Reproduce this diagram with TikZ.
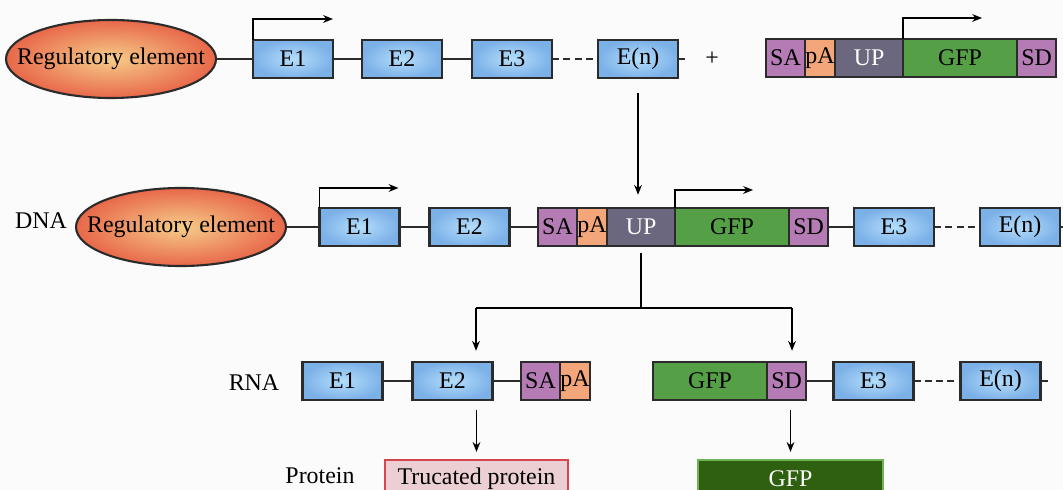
\documentclass[tikz,border=0pt]{standalone}
\usepackage{fontspec}
\setmainfont{Liberation Serif}
\usetikzlibrary{positioning,shapes.geometric,arrows.meta}
\definecolor{bgcol}{HTML}{FBFBFB}
\definecolor{boxline}{HTML}{2B2B2B}
\definecolor{exonin}{HTML}{B4DDFA}
\definecolor{exonout}{HTML}{7CB1E8}
\definecolor{regin}{HTML}{F6CC89}
\definecolor{regout}{HTML}{E8684A}
\definecolor{sacol}{HTML}{B57BB4}
\definecolor{pacol}{HTML}{F2A679}
\definecolor{upcol}{HTML}{6A677F}
\definecolor{gfpcol}{HTML}{55A047}
\definecolor{trfill}{HTML}{EBCFD3}
\definecolor{trline}{HTML}{D64550}
\definecolor{gpfill}{HTML}{2E600F}
\definecolor{gpline}{HTML}{6DB356}
\tikzset{
  exon/.style={draw=boxline, line width=1.5pt, inner color=exonin, outer color=exonout,
    minimum width=2cm, minimum height=0.95cm, inner sep=0pt, outer sep=0pt},
  reg/.style={ellipse, draw=boxline, line width=1.5pt, inner color=regin, outer color=regout,
    minimum width=5.1cm, minimum height=1.95cm, inner xsep=-14pt, inner ysep=0pt},
  partbox/.style={draw=boxline, line width=1.5pt, minimum height=0.95cm, inner sep=0pt, outer sep=0pt},
  sa/.style={partbox, fill=sacol, minimum width=0.975cm},
  pa/.style={partbox, fill=pacol, minimum width=0.75cm},
  up/.style={partbox, fill=upcol, text=white, minimum width=1.7cm},
  gfp/.style={partbox, fill=gfpcol, minimum width=2.85cm},
  sd/.style={partbox, fill=sacol, minimum width=0.975cm},
  link/.style={draw=boxline, line width=1.5pt},
  gapline/.style={link, dash pattern=on 5pt off 3pt},
  prom/.style={->, line width=1pt},
  arr/.style={->, line width=1pt},
  prot/.style={line width=1.3pt, minimum height=0.95cm, inner sep=0pt},
}
\begin{document}
\begin{tikzpicture}[x=0.025cm, y=-0.025cm, >={Stealth[length=7pt,width=5.5pt]}, font=\fontsize{17}{19}\selectfont]
\useasboundingbox (0,0) rectangle (1063,490);
\fill[bgcol] (0,0) rectangle (1063,490);
\clip (0,0) rectangle (1063,490);

% genomic locus + trap cassette
\node[reg] (reg1) at (111,59) {Regulatory element};
\node[exon] (ea1) at (293,59) {E1};
\node[exon] (eb1) at (402,59) {E2};
\node[exon] (ec1) at (512,59) {E3};
\node[exon] (en1) at (638,59) {E(n)};
\coordinate (end1) at (685,59);
\draw[link] (reg1) -- (ea1);
\draw[link] (ea1) -- (eb1);
\draw[link] (eb1) -- (ec1);
\draw[gapline] (ec1) -- (en1);
\draw[link] (en1) -- (end1);
\node (plus) at (712,59) {+};

\node[sa] (sa1) at (785.5,58) {SA};
\node[pa, right=0pt of sa1] (pa1) {pA};
\node[up, right=0pt of pa1] (up1) {UP};
\node[gfp, right=0pt of up1] (gfp1) {GFP};
\node[sd, right=0pt of gfp1] (sd1) {SD};
\draw[prom] (ea1.north west) |- ++(80,-21);
\draw[prom] (gfp1.north west) |- ++(79,-21);

% DNA
\node (dna) at (41,221) {DNA};
\node[reg] (reg2) at (181,227) {Regulatory element};
\node[exon] (ea2) at (359.5,227) {E1};
\node[exon] (eb2) at (469.5,227) {E2};
\node[sa] (sa2) at (557.5,227) {SA};
\node[pa, right=0pt of sa2] (pa2) {pA};
\node[up, right=0pt of pa2] (up2) {UP};
\node[gfp, right=0pt of up2] (gfp2) {GFP};
\node[sd, right=0pt of gfp2] (sd2) {SD};
\node[exon] (ec2) at (894,227) {E3};
\node[exon] (en2) at (1020,227) {E(n)};
\coordinate (end2) at (1070,227);
\draw[link] (reg2) -- (ea2);
\draw[link] (ea2) -- (eb2);
\draw[link] (eb2) -- (sa2);
\draw[link] (sd2) -- (ec2);
\draw[gapline] (ec2) -- (en2);
\draw[link] (en2) -- (end2);
\draw[prom] (ea2.north west) |- ++(79,-20);
\draw[prom] (gfp2.north west) |- ++(78,-18);
\draw[arr, shorten <=0.375cm, shorten >=0.33cm] (en1.south) -- (en1.south |- up2.north);

% RNA
\node (rna) at (254,383) {RNA};
\node[exon] (ea3) at (342.5,381) {E1};
\node[exon] (eb3) at (452.5,381) {E2};
\node[sa] (sa3) at (540.5,381) {SA};
\node[pa, right=0pt of sa3] (pa3) {pA};
\node[gfp] (gfp3) at (710,381) {GFP};
\node[sd, right=0pt of gfp3] (sd3) {SD};
\node[exon] (ec3) at (873.5,381) {E3};
\node[exon] (en3) at (1000.5,381) {E(n)};
\coordinate (end3) at (1048,381);
\draw[link] (ea3) -- (eb3);
\draw[link] (eb3) -- (sa3);
\draw[link] (sd3) -- (ec3);
\draw[gapline] (ec3) -- (en3);
\draw[link] (en3) -- (end3);

\coordinate (sl) at (476,308);
\coordinate (sr) at (792,308);
\draw[line width=1pt, shorten <=0.18cm] (up2.south) -- (up2.south |- sl);
\draw[line width=1pt] (sl) -- (sr);
\draw[arr, shorten >=0.28cm] (sl) -- (sl |- eb3.north);
\draw[arr, shorten >=0.28cm] (sr) -- (sr |- sd3.north);

% protein
\node (protein) at (320,476) {Protein};
\node[prot, draw=trline, fill=trfill, minimum width=4.575cm] (tp) at (476.5,479) {Trucated protein};
\node[prot, draw=gpline, fill=gpfill, text=white, minimum width=4.625cm] (gp) at (790.5,479) {GFP};
\draw[arr, shorten <=0.25cm, shorten >=0.18cm] (tp.north |- eb3.south) -- (tp);
\draw[arr, shorten <=0.25cm, shorten >=0.18cm] (gp.north |- sd3.south) -- (gp);
\end{tikzpicture}
\end{document}
